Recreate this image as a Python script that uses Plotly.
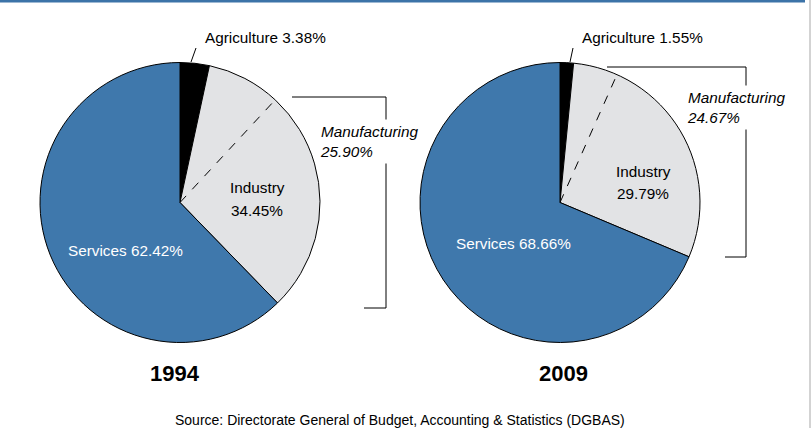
import math
import plotly.graph_objects as go

# GDP composition by sector (%), Taiwan
years = ["1994", "2009"]
sectors = ["Agriculture", "Industry", "Services"]
shares_1994 = [3.38, 34.45, 62.42]
shares_2009 = [1.55, 29.79, 68.66]
manufacturing = [25.90, 24.67]

W, H = 811, 428
FONT = "Liberation Sans, Arial, sans-serif"
FS = 15.3
BLUE = "#3F78AC"
GREY = "#E2E3E5"
colors = ["#000000", GREY, BLUE]

# pie geometry in pixels (center x, center y, radius)
pies = [(180, 202.5, 140), (560, 202.5, 140)]


def px(x, y):
    return x / W, 1 - y / H


def label(x, y, text, xanchor="center", **kw):
    tx, ty = px(x, y)
    d = dict(x=tx, y=ty, xref="paper", yref="paper", text=text, showarrow=False,
             xanchor=xanchor, yanchor="middle")
    d.update(kw)
    return d


fig = go.Figure()
shapes = []
annotations = []

for i, (shares, (cx, cy, r)) in enumerate(zip([shares_1994, shares_2009], pies)):
    x0, y1 = px(cx - r, cy - r)
    x1, y0 = px(cx + r, cy + r)
    fig.add_trace(go.Pie(
        labels=sectors, values=shares, sort=False, direction="clockwise",
        rotation=0, textinfo="none", hoverinfo="label+value",
        marker=dict(colors=colors, line=dict(color="#000000", width=1)),
        domain=dict(x=[x0, x1], y=[y0, y1]), showlegend=False,
    ))

    # dashed divider: manufacturing share inside industry
    total = sum(shares)
    frac = (shares[0] + shares[1] - manufacturing[i]) / total
    ang = 2 * math.pi * frac
    ex, ey = cx + r * math.sin(ang), cy - r * math.cos(ang)
    ax0, ay0 = px(cx, cy)
    ax1, ay1 = px(ex, ey)
    shapes.append(dict(type="line", xref="paper", yref="paper",
                       x0=ax0, y0=ay0, x1=ax1, y1=ay1,
                       line=dict(color="#000000", width=1, dash="dash")))

# year captions
for (x, y), yr in zip([(175, 373), (563, 373)], years):
    annotations.append(label(x, y, f"<b>{yr}</b>", font=dict(size=22, color="#000000")))

# agriculture leader lines and labels
agri_label = [(203, 38), (580, 38)]
agri_leader = [((191, 62), (196, 48)), ((570, 62), (573, 48))]
for i, shares in enumerate([shares_1994, shares_2009]):
    (lx0, ly0), (lx1, ly1) = agri_leader[i]
    a0, b0 = px(lx0, ly0)
    a1, b1 = px(lx1, ly1)
    shapes.append(dict(type="line", xref="paper", yref="paper", x0=a0, y0=b0, x1=a1, y1=b1,
                       line=dict(color="#000000", width=1)))
    annotations.append(label(*agri_label[i], f"{sectors[0]} {shares[0]:.2f}%", xanchor="left",
                             font=dict(size=FS, color="#000000")))

# industry labels (two lines)
for (x, y1, y2), shares in zip([(257, 188, 210), (643, 172, 193)], [shares_1994, shares_2009]):
    annotations.append(label(x, y1, sectors[1], font=dict(size=FS, color="#000000")))
    annotations.append(label(x, y2, f"{shares[1]:.2f}%", font=dict(size=FS, color="#000000")))

# services labels
for (x, y), shares in zip([(125, 250), (513, 243)], [shares_1994, shares_2009]):
    annotations.append(label(x, y, f"{sectors[2]} {shares[2]:.2f}%",
                             font=dict(size=FS, color="#FFFFFF")))

# manufacturing brackets
brackets = [
    [(292, 97), (386, 97), (386, 308), (364, 308)],
    [(607, 67), (746, 67), (746, 257), (725, 257)],
]
for pts in brackets:
    for (xa, ya), (xb, yb) in zip(pts[:-1], pts[1:]):
        a0, b0 = px(xa, ya)
        a1, b1 = px(xb, yb)
        shapes.append(dict(type="line", xref="paper", yref="paper", x0=a0, y0=b0, x1=a1, y1=b1,
                           line=dict(color="#000000", width=1)))

for (x, y), m in zip([(316, 141), (683, 107.5)], manufacturing):
    annotations.append(label(x, y, f"<i>Manufacturing<br>{m:.2f}%</i>", xanchor="left",
                             align="left", bgcolor="#FFFFFF", borderpad=3,
                             font=dict(size=FS, color="#000000")))

# source note
annotations.append(label(400, 420, "Source: Directorate General of Budget, Accounting & Statistics (DGBAS)",
                         font=dict(size=14, color="#000000")))

# frame: blue top rule and grey right edge
shapes.append(dict(type="rect", xref="paper", yref="paper", x0=0, x1=805 / W, y0=1 - 2.5 / H, y1=1,
                   fillcolor="#3C73A8", line=dict(width=0)))
shapes.append(dict(type="line", xref="paper", yref="paper", x0=810 / W, x1=810 / W, y0=0, y1=1,
                   line=dict(color="#C4C4C4", width=1.5)))

fig.update_layout(
    width=W, height=H, margin=dict(l=0, r=0, t=0, b=0),
    paper_bgcolor="#FFFFFF", plot_bgcolor="#FFFFFF",
    font=dict(family=FONT, size=FS, color="#000000"),
    shapes=shapes, annotations=annotations,
)

fig.write_html("out.html")
